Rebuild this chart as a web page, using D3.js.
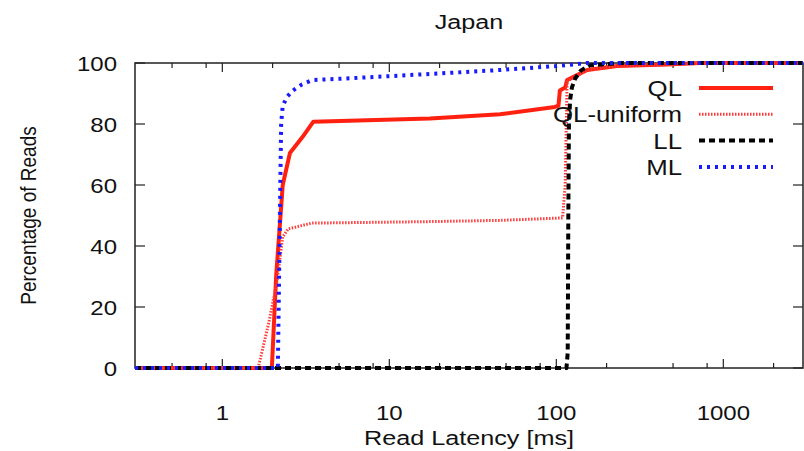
<!DOCTYPE html>
<html>
<head>
<meta charset="utf-8">
<script src="https://cdn.jsdelivr.net/npm/d3@7"></script>
<style>
  body { margin: 0; background: #fff; }
  text { font-family: "Liberation Sans", Arial, Helvetica, sans-serif; fill: #111; }
</style>
</head>
<body>
<svg width="804" height="451"></svg>
<script>
// latency in ms, percentage of reads
var qlLatency = [0.3, 1.98, 2.1, 2.3, 2.54, 3.02, 3.5, 17.5, 46, 98, 103, 105, 113, 116, 153, 231, 460, 725, 3000]
var qlPct     = [0,   0,    30,  60,  70.5, 75.7, 80.7, 81.8, 83.2, 85.6, 86, 91, 92, 94.4, 97.7, 99, 99.5, 100, 100]

var qluLatency = [0.3, 1.64, 1.9, 2.12, 2.3, 2.48, 3.43, 17.5, 46, 109, 113, 116, 153, 231, 460, 725, 3000]
var qluPct     = [0,   0,    15,  28,   43,  45.6, 47.5, 48,   48.4, 49.2, 60, 94,  97.7, 99, 99.5, 100, 100]

var llLatency = [0.3, 115, 117, 118, 119, 121, 124, 130, 140, 160, 250, 3000]
var llPct     = [0,   0,   5,   50,  80,  88,  92,  95,  97.5, 99.3, 100, 100]

var mlLatency = [0.3, 2.15, 2.2, 2.25, 2.3, 2.45, 2.65, 3.0, 3.45, 5, 17.5, 46, 100, 153, 3000]
var mlPct     = [0,   0,    40,  80,   86,  89,   91,   93,  94.4, 94.8, 96.4, 97.7, 99, 100, 100]

var xMajor = [1, 10, 100, 1000]
var xMinor = [0.5, 0.8, 2, 5, 8, 20, 50, 80, 200, 500, 800, 2000]
var yTicks = [0, 20, 40, 60, 80, 100]

var svg = d3.select("svg")
var pLeft = 135, pRight = 803, pTop = 63, pBottom = 368
var stretch = 1.2

var x = d3.scaleLog().domain([0.3, 3000]).range([pLeft, pRight])
var y = d3.scaleLinear().domain([0, 100]).range([pBottom, pTop])

// helper for the slightly wide text of the original
function wideText(g, tx, ty, str, anchor, size) {
    return g.append("text")
        .attr("transform", "translate(" + tx + "," + ty + ") scale(" + stretch + ",1)")
        .attr("text-anchor", anchor)
        .style("font-size", size + "px")
        .text(str)
}

svg.append("defs").append("clipPath").attr("id", "plotclip")
    .append("rect").attr("x", pLeft).attr("y", pTop - 3).attr("width", pRight - pLeft).attr("height", pBottom - pTop + 6)

// ticks, bottom and top mirrored
var tickG = svg.append("g").style("stroke", "#222").style("stroke-width", 1.2)
xMajor.forEach(function (v) {
    tickG.append("line").attr("x1", x(v)).attr("x2", x(v)).attr("y1", pBottom).attr("y2", pBottom - 9)
    tickG.append("line").attr("x1", x(v)).attr("x2", x(v)).attr("y1", pTop).attr("y2", pTop + 9)
})
xMinor.forEach(function (v) {
    tickG.append("line").attr("x1", x(v)).attr("x2", x(v)).attr("y1", pBottom).attr("y2", pBottom - 5)
    tickG.append("line").attr("x1", x(v)).attr("x2", x(v)).attr("y1", pTop).attr("y2", pTop + 5)
})
yTicks.forEach(function (v) {
    tickG.append("line").attr("x1", pLeft).attr("x2", pLeft + 10).attr("y1", y(v)).attr("y2", y(v))
    tickG.append("line").attr("x1", pRight).attr("x2", pRight - 10).attr("y1", y(v)).attr("y2", y(v))
})

// tick labels
var labG = svg.append("g")
xMajor.forEach(function (v) {
    wideText(labG, x(v), pBottom + 52, String(v), "middle", 20)
})
yTicks.forEach(function (v) {
    wideText(labG, 117, y(v) + 7.5, String(v), "end", 20)
})

// border
svg.append("rect")
    .attr("x", pLeft).attr("y", pTop).attr("width", pRight - pLeft).attr("height", pBottom - pTop)
    .style("fill", "none").style("stroke", "#222").style("stroke-width", 1.5)

var line = d3.line()
    .x(function (d) { return x(d[0]) })
    .y(function (d) { return y(d[1]) })

var series = [
    { name: "QL", xs: qlLatency, ys: qlPct, color: "#ff2010", width: 4, dash: null },
    { name: "QL-uniform", xs: qluLatency, ys: qluPct, color: "#ff3a3a", width: 3, dash: "1.5,1.5" },
    { name: "LL", xs: llLatency, ys: llPct, color: "#000", width: 4, dash: "6,4" },
    { name: "ML", xs: mlLatency, ys: mlPct, color: "#1a1aff", width: 4, dash: "3,5" }
]

var plotG = svg.append("g").attr("clip-path", "url(#plotclip)")
plotG.selectAll("path")
    .data(series)
    .enter().append("path")
    .attr("d", function (s) { return line(s.xs.map(function (v, i) { return [v, s.ys[i]] })) })
    .style("fill", "none")
    .style("stroke", function (s) { return s.color })
    .style("stroke-width", function (s) { return s.width })
    .style("stroke-dasharray", function (s) { return s.dash })
    .style("stroke-linejoin", "round")

// legend
var legG = svg.append("g")
series.forEach(function (s, i) {
    var ly = 88 + i * 26.3
    legG.append("line")
        .attr("x1", 699).attr("x2", 773).attr("y1", ly).attr("y2", ly)
        .style("stroke", s.color)
        .style("stroke-width", s.width)
        .style("stroke-dasharray", s.dash)
    wideText(legG, 682, ly + 8, s.name, "end", 21.5)
})

// titles
wideText(svg, (pLeft + pRight) / 2, 29, "Japan", "middle", 21)
wideText(svg, (pLeft + pRight) / 2, 445, "Read Latency [ms]", "middle", 21)
svg.append("text")
    .attr("transform", "translate(36," + ((pTop + pBottom) / 2) + ") rotate(-90) scale(1," + stretch + ")")
    .attr("text-anchor", "middle")
    .style("font-size", "19px")
    .text("Percentage of Reads")
</script>
</body>
</html>
